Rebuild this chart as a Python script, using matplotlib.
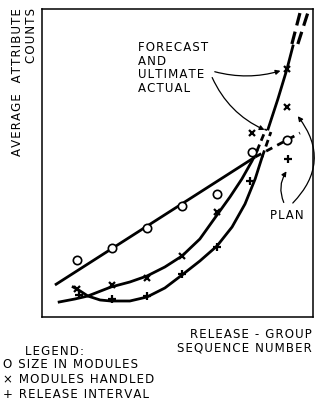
import matplotlib
matplotlib.use("Agg")
import matplotlib.pyplot as plt

# release-group sequence number (1..7) and average counts
groups = [1, 2, 3, 4, 5, 6]
size_modules = [5.7, 6.9, 8.9, 11.1, 12.3, 16.5]
handled_groups = [1, 2, 3, 4, 5, 6]
modules_handled = [2.8, 3.2, 3.9, 6.1, 10.5, 18.4]
interval_groups = [1.05, 2, 3, 4, 5, 5.94]
release_interval = [2.2, 1.8, 2.1, 4.3, 7.0, 13.6]

# group 7: plan and forecast/actual points
plan_size = (7.0, 17.7)
plan_handled = (7.0, 21.0)
plan_interval = (7.03, 15.8)
actual_handled = (7.0, 24.8)

# hand-drawn trend curves
size_fit_x = [0.37, 6.09]
size_fit_y = [3.2, 16.0]
size_plan_x = [6.09, 7.0, 7.37]
size_plan_y = [16.0, 17.7, 18.4]

handled_fit_x = [0.49, 0.94, 1.31, 1.97, 2.51, 3.0, 3.51, 4.0, 4.51, 5.0, 5.37, 5.71, 6.0, 6.14]
handled_fit_y = [1.5, 1.8, 2.1, 3.0, 3.5, 4.1, 5.0, 6.1, 7.8, 10.2, 12.0, 13.8, 15.6, 16.6]
interval_fit_x = [0.89, 1.09, 1.31, 1.66, 1.97, 2.51, 3.0, 3.51, 4.0, 4.51, 5.0, 5.43, 5.8, 6.09, 6.29]
interval_fit_y = [3.0, 2.6, 2.1, 1.7, 1.6, 1.6, 2.0, 2.9, 4.2, 5.6, 7.1, 9.0, 11.3, 13.8, 16.0]

handled_dash_x = [6.14, 6.4]
handled_dash_y = [16.6, 18.8]
interval_dash_x = [6.29, 6.54]
interval_dash_y = [16.0, 18.5]
forecast_x = [6.46, 6.74, 7.0, 7.17]
forecast_y = [18.8, 21.8, 24.8, 27.1]
ultimate1_x = [7.14, 7.4]
ultimate1_y = [27.3, 30.8]
ultimate2_x = [7.31, 7.63]
ultimate2_y = [27.3, 30.8]

W, H = 315, 402


def px(x, y):
    return x / W, 1 - y / H


def spaced(s):
    # the original lettering is set a little wider than DejaVu
    return "\n".join("\u200a".join(line) for line in s.split("\n"))


fig = plt.figure(figsize=(3.15, 4.02), dpi=100)
ax = fig.add_axes([42 / W, 1 - 318 / H, 271 / W, 308 / H])
ax.set_xlim(0, 7.743)
ax.set_ylim(0, 30.8)
ax.set_xticks([])
ax.set_yticks([])
for s in ax.spines.values():
    s.set_linewidth(1.1)

lw = 2.0
ax.plot(size_fit_x, size_fit_y, color="black", lw=lw, solid_capstyle="butt")
ax.plot(handled_fit_x, handled_fit_y, color="black", lw=lw)
ax.plot(interval_fit_x, interval_fit_y, color="black", lw=lw)
ax.plot(size_plan_x, size_plan_y, color="black", lw=lw, ls=(0, (2.5, 2)))
ax.plot(handled_dash_x, handled_dash_y, color="black", lw=lw, ls=(0, (2.5, 1.5)))
ax.plot(interval_dash_x, interval_dash_y, color="black", lw=lw, ls=(0, (2.5, 1.5)))
ax.plot(forecast_x, forecast_y, color="black", lw=lw)
ax.plot(ultimate1_x, ultimate1_y, color="black", lw=lw + 0.3, ls=(0, (4, 2)), clip_on=False)
ax.plot(ultimate2_x, ultimate2_y, color="black", lw=lw + 0.3, ls=(0, (4, 2)), clip_on=False)

ax.plot(groups, size_modules, "o", ms=6, mfc="white", mec="black", mew=1.2)
ax.plot(*plan_size, "o", ms=6, mfc="white", mec="black", mew=1.2)
ax.plot(handled_groups, modules_handled, "x", ms=5, color="black", mew=1.6)
ax.plot(*plan_handled, "x", ms=5, color="black", mew=1.6)
ax.plot(*actual_handled, "x", ms=5, color="black", mew=1.6)
ax.plot(interval_groups, release_interval, "+", ms=6, color="black", mew=1.6)
ax.plot(*plan_interval, "+", ms=6, color="black", mew=1.6)

fs = 8.5
ax.text(2.74, 25.0, spaced("FORECAST\nAND\nULTIMATE\nACTUAL"), fontsize=fs,
        ha="left", va="center", linespacing=1.05)
ax.text(7.0, 10.2, spaced("PLAN"), fontsize=fs, ha="center", va="center")

arrow = dict(arrowstyle="-|>", color="black", lw=0.9, mutation_scale=7)
ax.annotate("", xy=(6.89, 24.7), xytext=(4.86, 24.6),
            arrowprops=dict(arrow, connectionstyle="arc3,rad=0.15"))
ax.annotate("", xy=(6.43, 18.6), xytext=(4.83, 24.2),
            arrowprops=dict(arrow, connectionstyle="arc3,rad=0.2"))
ax.annotate("", xy=(7.03, 14.8), xytext=(6.94, 11.2),
            arrowprops=dict(arrow, connectionstyle="arc3,rad=-0.3"))
ax.annotate("", xy=(7.26, 20.3), xytext=(7.11, 11.2),
            arrowprops=dict(arrow, connectionstyle="arc3,rad=0.45"))

fig.text(*px(11, 8), spaced("AVERAGE  ATTRIBUTE\nCOUNTS"), fontsize=fs, rotation=90,
         ha="left", va="top", multialignment="right", linespacing=1.1)

fig.text(*px(312, 335), spaced("RELEASE - GROUP"), fontsize=fs, ha="right", va="center")
fig.text(*px(312, 348), spaced("SEQUENCE NUMBER"), fontsize=fs, ha="right", va="center")
fig.text(*px(25, 352), spaced("LEGEND:"), fontsize=fs, ha="left", va="center")
fig.text(*px(3, 365), spaced("O SIZE IN MODULES"), fontsize=fs, ha="left", va="center")
fig.text(*px(3, 380), spaced("\u00d7 MODULES HANDLED"), fontsize=fs, ha="left", va="center")
fig.text(*px(3, 395), spaced("+ RELEASE INTERVAL"), fontsize=fs, ha="left", va="center")

fig.savefig("out.png", dpi=100)
